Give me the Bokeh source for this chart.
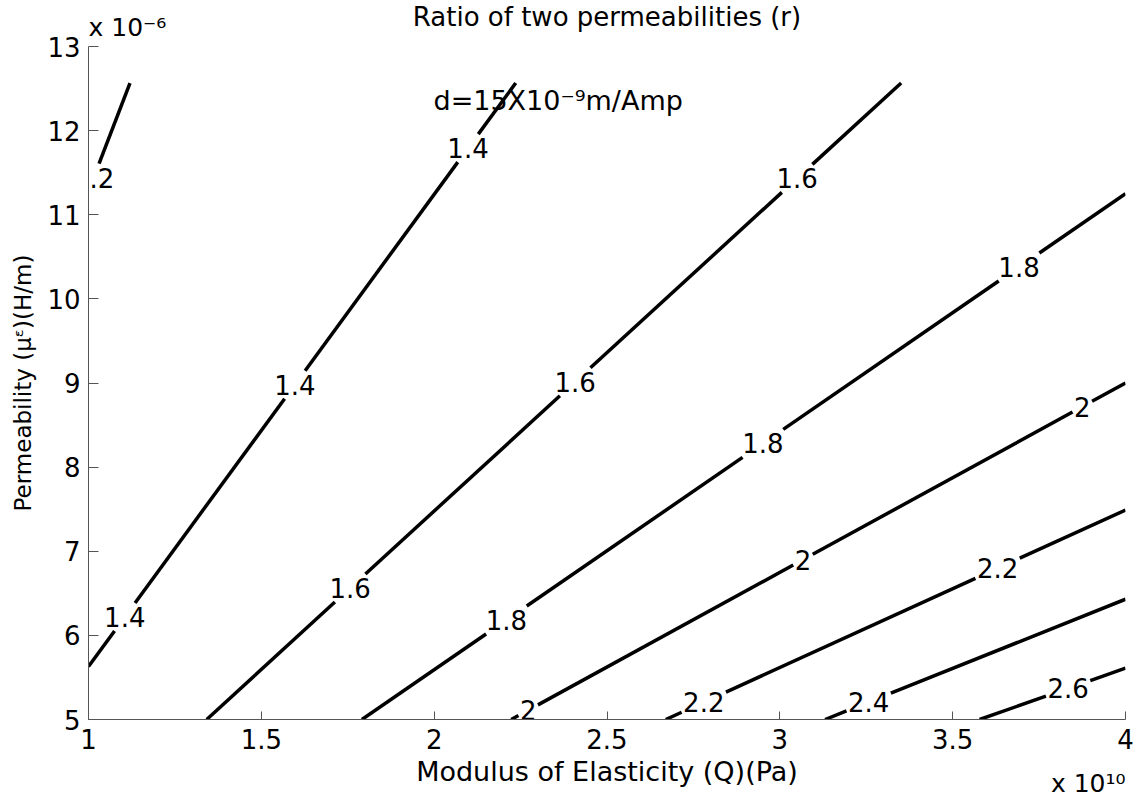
import math
from bokeh.plotting import figure
from bokeh.models import Range1d, Label, Title, ColumnDataSource
from bokeh.core.properties import value
from bokeh.embed import file_html
from bokeh.resources import INLINE

# Iso-lines of the permeability ratio r (straight lines through the window).
# Q in units of 1e10 Pa, mu in units of 1e-6 H/m.
levels   = ["1.2", "1.4", "1.6", "1.8", "2", "2.2", "2.4", "2.6"]
q_start  = [1.000, 1.000, 1.342, 1.791, 2.223, 2.670, 3.131, 3.578]
mu_start = [11.28, 5.63, 5.00, 5.00, 5.00, 5.00, 5.00, 5.00]
q_end    = [1.120, 2.236, 3.351, 4.000, 4.000, 4.000, 4.000, 4.000]
mu_end   = [12.566, 12.566, 12.566, 11.25, 9.00, 7.49, 6.43, 5.61]
# Q positions of the inline level labels on each iso-line
label_q  = [[1.015], [1.105, 1.597, 2.098], [1.757, 2.408, 3.050],
            [2.209, 2.951, 3.692], [2.272, 3.067, 3.875], [2.780, 3.630],
            [3.257], [3.834]]

x_ticks = [1, 1.5, 2, 2.5, 3, 3.5, 4]
x_tick_labels = ["1", "1.5", "2", "2.5", "3", "3.5", "4"]
y_ticks = [5, 6, 7, 8, 9, 10, 11, 12, 13]
y_tick_labels = ["5", "6", "7", "8", "9", "10", "11", "12", "13"]

TITLE = "Ratio of two permeabilities (r)"
SUBTITLE = "d=15X10\u207b\u2079m/Amp"
X_LABEL = "Modulus of Elasticity (Q)(Pa)"
Y_LABEL = "Permeability (\u03bc\u1d4b)(H/m)"
X_MULT = "x 10\u00b9\u2070"
Y_MULT = "x 10\u207b\u2076"

# ---- layout -------------------------------------------------------------
W, H = 1137, 803
FL, FR, FT, FB = 88, 1125, 46, 719          # plot frame in canvas pixels
X0, X1, Y0, Y1 = 1.0, 4.0, 5.0, 13.0
FONT = "DejaVu Sans"
INK = "black"
AXIS_COL = "#555555"

sx = (FR - FL) / (X1 - X0)
sy = (FB - FT) / (Y1 - Y0)

# advance widths (em) of DejaVu Sans digits and point
ADV = {".": .318}


def text_w(s, size):
    return sum(ADV.get(c, .636) for c in s) * size


p = figure(width=W, height=H, x_range=Range1d(X0, X1), y_range=Range1d(Y0, Y1),
           output_backend="svg", toolbar_location=None, title=None,
           min_border_left=FL, min_border_right=W - FR,
           min_border_top=FT, min_border_bottom=H - FB)
p.outline_line_color = None
p.grid.visible = False
p.background_fill_color = "white"
p.border_fill_color = "white"

for ax, ticks, labels, tick_in, standoff in (
        (p.xaxis[0], x_ticks, x_tick_labels, 8, 9),
        (p.yaxis[0], y_ticks, y_tick_labels, 10, 8)):
    ax.ticker = ticks
    ax.major_label_overrides = {(int(t) if float(t).is_integer() else t): l
                                for t, l in zip(ticks, labels)}
    ax.axis_line_color = AXIS_COL
    ax.axis_line_width = 1
    ax.major_tick_line_color = AXIS_COL
    ax.major_tick_in = tick_in
    ax.major_tick_out = 0
    ax.minor_tick_line_color = None
    ax.major_label_standoff = standoff
    ax.major_label_text_font = FONT
    ax.major_label_text_font_size = "26px"
    ax.major_label_text_color = INK
    ax.axis_label_text_font = FONT
    ax.axis_label_text_font_style = "normal"
    ax.axis_label_text_color = INK

p.xaxis[0].axis_label = X_LABEL
p.xaxis[0].axis_label_text_font_size = "27px"
p.xaxis[0].axis_label_standoff = 4
p.yaxis[0].axis_label = Y_LABEL
p.yaxis[0].axis_label_text_font_size = "23px"
p.yaxis[0].axis_label_standoff = 8

# titles above the frame: multiplier row next to the frame, main title above it
p.add_layout(Title(text=Y_MULT, align="left", offset=0, standoff=10,
                   text_font=FONT, text_font_size="25px", text_font_style="normal",
                   text_color=INK), "above")
p.add_layout(Title(text=TITLE, align="center", standoff=-53,
                   text_font=FONT, text_font_size="26px", text_font_style="normal",
                   text_color=INK), "above")
# multiplier of the Q axis, below the axis label at the right end
p.add_layout(Title(text=X_MULT, align="right", offset=0, standoff=-42,
                   vertical_align="top",
                   text_font=FONT, text_font_size="25px", text_font_style="normal",
                   text_color=INK), "below")

# ---- contour lines with gaps around inline labels ------------------------
LABEL_PX = 26
HALF_H = 14
seg_xs, seg_ys = [], []
lab_x, lab_y, lab_t = [], [], []
for lev, qa, ma, qb, mb, lq in zip(levels, q_start, mu_start, q_end, mu_end, label_q):
    dxp, dyp = (qb - qa) * sx, (mb - ma) * sy
    L = math.hypot(dxp, dyp)
    ux, uy = abs(dxp) / L, abs(dyp) / L
    half_w = text_w(lev, LABEL_PX) / 2 + 1.5
    s = min(half_w / ux if ux else 1e9, HALF_H / uy if uy else 1e9)
    dt = s / L
    t_prev = 0.0
    for q in sorted(lq):
        t = (q - qa) / (qb - qa)
        lab_x.append(q)
        lab_y.append(ma + t * (mb - ma))
        lab_t.append(lev)
        if t - dt > t_prev:
            seg_xs.append([qa + t_prev * (qb - qa), qa + (t - dt) * (qb - qa)])
            seg_ys.append([ma + t_prev * (mb - ma), ma + (t - dt) * (mb - ma)])
        t_prev = t + dt
    if t_prev < 1.0:
        seg_xs.append([qa + t_prev * (qb - qa), qb])
        seg_ys.append([ma + t_prev * (mb - ma), mb])

p.multi_line(xs=seg_xs, ys=seg_ys, line_color=INK, line_width=3.5)

lab_src = ColumnDataSource(dict(x=lab_x, y=lab_y, text=lab_t))
p.text(x="x", y="y", text="text", source=lab_src, text_font=value(FONT),
       text_font_size=value(f"{LABEL_PX}px"), text_color=INK,
       text_align="center", text_baseline="middle")

# parameter note inside the frame
p.add_layout(Label(x=433, y=100, x_units="canvas", y_units="canvas",
                   text=SUBTITLE, text_font=FONT, text_font_size="27px",
                   text_color=INK, text_align="left", text_baseline="alphabetic"))

open("out.html", "w").write(file_html(p, INLINE))
